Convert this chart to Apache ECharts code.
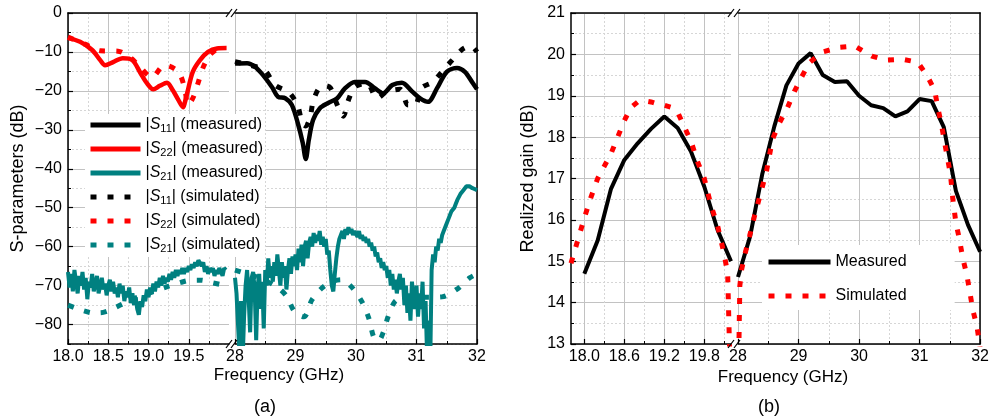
<!DOCTYPE html>
<html><head><meta charset="utf-8">
<script src="https://cdn.jsdelivr.net/npm/echarts@6/dist/echarts.min.js"></script>
<style>html,body{margin:0;padding:0;background:#fff}#c{width:992px;height:419px}</style>
</head><body><div id="c"></div>
<script>
// ---------------- DATA ----------------
// Panel (a) – S-parameters, band 18–20 GHz
const s22MeasFreq = [18.0,18.15,18.3,18.4,18.46,18.56,18.68,18.8,18.9,18.98,19.06,19.14,19.23,19.3,19.37,19.43,19.45,19.49,19.55,19.64,19.74,19.85,19.97];
const s22MeasVal  = [-6.4,-7.4,-9.5,-12.1,-13.4,-12.6,-11.6,-12.1,-15.4,-18,-19.6,-18.7,-17.9,-19.8,-22.3,-24.2,-23.1,-19.8,-15.1,-12.1,-10,-9.1,-9.0];
const s22SimFreq  = [18.0,18.21,18.4,18.62,18.77,18.9,19.04,19.2,19.37,19.45,19.49,19.55,19.62,19.68,19.76,19.85,19.95];
const s22SimVal   = [-6.2,-8,-9.7,-9.8,-11.4,-14,-16.5,-13.4,-15.1,-19.4,-23.6,-21.9,-17.7,-13.9,-10.8,-9.3,-8.8];
const s21MeasLoStart = 18.0, s21MeasLoStep = 0.02;
const s21MeasLoVal = [-66.5,-70.5,-67,-71.5,-66,-69,-72,-67.5,-70,-66.5,
  -71,-68,-73.5,-69,-70.5,-67,-71.5,-69.5,-67.5,-72,
  -70,-68,-71,-69.5,-72.5,-70,-68.5,-71.5,-69,-72,
  -70.5,-73,-69.5,-72,-70,-74,-71.5,-73,-70.5,-74.5,
  -72,-75,-73,-76,-77.5,-74,-75.5,-72.5,-74,-71,
  -73,-70.5,-72,-69.5,-71.5,-69,-70.5,-68,-70,-67.5,
  -69.5,-68,-69,-67,-68.5,-66.5,-68,-66,-67.5,-66,
  -67,-65.5,-67,-65.5,-66.5,-65,-66,-64.5,-65.5,-64,
  -65,-63.5,-64,-65,-64,-66.5,-65,-67,-65.5,-66.5,
  -65.5,-67.5,-66,-67,-65.5,-66.5,-67.5,-65.5,-66];
const s21SimLoFreq = [18.0,18.1,18.2,18.3,18.4,18.5,18.6,18.7,18.8,19.0,19.2,19.4,19.5,19.65,19.8,19.95];
const s21SimLoVal  = [-75,-75.8,-76.5,-77,-77,-76.5,-75.5,-74.5,-73.5,-72,-70.5,-69.2,-68.7,-68.6,-69.3,-70];
// Panel (a) – band 28–32 GHz
const s11MeasFreq = [28.0,28.2,28.33,28.46,28.61,28.71,28.83,28.94,29.04,29.12,29.17,29.22,29.29,29.4,29.54,29.69,29.82,29.98,30.15,30.31,30.45,30.6,30.76,30.93,31.06,31.19,31.34,31.5,31.67,31.8,31.93,32.0];
const s11MeasVal  = [-13,-12.9,-13.8,-15.9,-19,-21.5,-21.9,-23.6,-28.4,-33.4,-37.5,-32.6,-27.5,-24.5,-23.1,-21.9,-19.3,-17.7,-17.7,-19.3,-20.6,-18.5,-17.9,-20.2,-21.9,-22.8,-19.3,-15.1,-14.1,-15.1,-18,-19.6];
const s11SimFreq  = [28.0,28.2,28.35,28.5,28.66,28.9,29.04,29.11,29.17,29.24,29.29,29.39,29.5,29.58,29.69,29.79,29.87,29.98,30.18,30.35,30.51,30.73,30.86,30.98,31.08,31.27,31.42,31.59,31.77,31.9,32.0];
const s11SimVal   = [-12.5,-13.2,-13.8,-14.8,-18.5,-20.5,-24,-28.3,-29,-27,-22.8,-19.3,-18.7,-19.3,-23.6,-26.5,-22.6,-19,-18,-21.9,-20.2,-19.6,-23.6,-23.6,-19.3,-17.7,-15.1,-12.1,-9.2,-8.5,-10];
const s21MeasHiStart = 28.0, s21MeasHiStep = 0.025;
const s21MeasHiVal = [-68,-72,-80,-88,-74,-90,-78,-70,-66,-73,
  -82,-68,-66.5,-71,-84,-70,-67,-76,-69,-81,
  -66,-70,-63,-68,-65,-69,-64,-67.5,-62,-66,
  -70,-64,-68,-65,-71,-66,-63,-67,-62.5,-65,
  -62,-66,-60.5,-64,-59.5,-65,-60,-58.5,-63,-59,
  -57.5,-60,-56.5,-59,-57,-58.5,-56,-59.5,-57.5,-60,
  -58,-62,-61,-66,-70,-71.5,-67,-63,-60,-58,
  -57,-56,-58,-55.5,-57,-55,-56.5,-55.5,-57,-56,
  -56.5,-57.5,-56,-58,-57,-58.5,-57.5,-59,-58,-60,
  -59,-61,-60,-62.5,-61.5,-64,-63,-65.5,-64,-66,
  -65,-68,-66,-70,-67,-71,-68.5,-72,-69,-67,
  -71,-68,-75,-70,-77,-72,-79,-69,-74,-76,
  -70,-78,-72,-76,-69,-81,-74,-88,-79,-92,
  -66,-62,-64,-60,-61,-58,-59,-57,-56,-55.5,
  -54,-53,-52,-51,-50.5,-50,-49,-48,-47.5,-46.5,
  -46,-45.5,-45,-44.5,-44.3,-44.5,-44.6,-45,-45.2,-45.3,
  -45.5];
const s21SimHiFreq = [28.0,28.2,28.4,28.6,28.75,28.86,28.99,29.14,29.27,29.44,29.6,29.75,29.93,30.1,30.21,30.3,30.38,30.45,30.53,30.64,30.8,31.0,31.2,31.42,31.67,31.88,32.0];
const s21SimHiVal  = [-66,-67,-68,-69.5,-71,-72.9,-76.8,-78,-73.7,-70.6,-69,-68.5,-70.4,-74.2,-78.3,-83.5,-84,-82,-78,-74.2,-73,-73,-73,-72.9,-70.9,-68,-67];

// Panel (b) – realized gain
const gMeasLoFreq = [18.0,18.2,18.4,18.6,18.8,19.0,19.2,19.4,19.6,19.8,20.0,20.2];
const gMeasLoVal  = [14.7,15.5,16.75,17.45,17.85,18.2,18.5,18.22,17.65,16.8,15.75,15.0];
const gSimLoFreq  = [17.8,17.9,18.0,18.1,18.2,18.3,18.4,18.5,18.6,18.7,18.8,18.9,19.0,19.1,19.2,19.3,19.4,19.5,19.6,19.7,19.8,19.9,20.0,20.1,20.15,20.2];
const gSimLoVal   = [14.95,15.5,16.05,16.55,17.0,17.3,17.6,18.0,18.4,18.72,18.85,18.88,18.85,18.8,18.77,18.72,18.6,18.25,17.9,17.4,17.0,16.35,15.85,15.15,14.7,11.5];
const gMeasHiFreq = [28.0,28.2,28.4,28.6,28.8,29.0,29.2,29.4,29.6,29.8,30.0,30.2,30.4,30.6,30.8,31.0,31.2,31.4,31.6,31.8,32.0];
const gMeasHiVal  = [14.62,15.6,17.1,18.26,19.25,19.78,20.03,19.5,19.33,19.35,19.0,18.77,18.7,18.5,18.62,18.92,18.87,18.24,16.7,15.88,15.23];
const gSimHiFreq  = [28.0,28.03,28.06,28.12,28.19,28.27,28.39,28.47,28.57,28.69,28.82,28.93,29.05,29.18,29.4,29.68,29.93,30.21,30.45,30.72,30.97,31.13,31.25,31.3,31.36,31.41,31.46,31.51,31.55,31.6,31.66,31.71,31.78,31.83,31.88,31.95,32.0];
const gSimHiVal   = [11.5,14.4,14.8,15.2,15.6,16.08,16.73,17.17,17.95,18.36,18.72,19.1,19.45,19.8,20.06,20.17,20.2,19.96,19.86,19.88,19.81,19.47,19.13,18.72,18.31,17.9,17.5,17.1,16.5,15.93,15.52,15.1,14.67,14.26,13.82,13.41,12.9];

// Tick values / labels
const aXLoTicks = [18.0,18.5,19.0,19.5], aXLoMinor = [18.25,18.75,19.25,19.75];
const aXHiTicks = [28,29,30,31,32],      aXHiMinor = [28.5,29.5,30.5,31.5];
const aYTicks = [-80,-70,-60,-50,-40,-30,-20,-10,0], aYMinor = [-85,-75,-65,-55,-45,-35,-25,-15,-5];
const bXLoTicks = [18.0,18.6,19.2,19.8], bXLoMinor = [18.3,18.9,19.5,20.1];
const bXHiTicks = [28,29,30,31,32],      bXHiMinor = [28.5,29.5,30.5,31.5];
const bYTicks = [13,14,15,16,17,18,19,20,21], bYMinor = [13.5,14.5,15.5,16.5,17.5,18.5,19.5,20.5];

const legendA = ['|S11| (measured)','|S22| (measured)','|S21| (measured)','|S11| (simulated)','|S22| (simulated)','|S21| (simulated)'];
const legendB = ['Measured','Simulated'];

// ---------------- CHART ----------------
const FONT = '"Liberation Sans", Arial, Helvetica, sans-serif';
const TOP = 13, H = 331;
const G = [
  {left:68,  width:161}, // a low band
  {left:235, width:242}, // a high band
  {left:571, width:160}, // b low band
  {left:738, width:243}  // b high band
];
const zip = (f, v) => f.map((x, i) => [x, v[i]]);
const seq = (start, step, v) => v.map((y, i) => [+(start + i * step).toFixed(4), y]);
const fmt1 = v => Number(v).toFixed(1);
const fmtI = v => String(v);
const fmtNeg = v => v < 0 ? '\u2212' + Math.abs(v) : String(v);

const MAJ = '#c2c2c2', MIN = '#d6d6d6';
function xAxes(gi, min, max, majors, minors, fmt) {
  return [
    {type:'value', gridIndex:gi, min, max, position:'bottom',
     axisLine:{show:true, onZero:false, lineStyle:{color:'#000', width:1.5}},
     axisTick:{show:true, inside:true, length:5, customValues:majors, lineStyle:{color:'#000', width:1.2}},
     axisLabel:{show:true, customValues:majors, formatter:fmt, color:'#000', fontSize:16, fontFamily:FONT, margin:5},
     splitLine:{show:true, lineStyle:{color:MAJ, width:1}}},
    {type:'value', gridIndex:gi, min, max, position:'bottom',
     axisLine:{show:false, onZero:false},
     axisTick:{show:true, inside:true, length:3, customValues:minors, lineStyle:{color:'#000', width:1}},
     axisLabel:{show:false},
     splitLine:{show:true, lineStyle:{color:MIN, width:1, type:[2,2]}}},
    {type:'value', gridIndex:gi, min, max, position:'top',
     axisLine:{show:true, onZero:false, lineStyle:{color:'#000', width:1.5}},
     axisTick:{show:false}, axisLabel:{show:false}, splitLine:{show:false}}
  ];
}
function yAxes(gi, min, max, majors, minors, fmt, isLeft) {
  return [
    {type:'value', gridIndex:gi, min, max, position:'left',
     axisLine:{show:isLeft, onZero:false, lineStyle:{color:'#000', width:1.5}},
     axisTick:{show:isLeft, inside:true, length:5, customValues:majors, lineStyle:{color:'#000', width:1.2}},
     axisLabel:{show:isLeft, customValues:majors, formatter:fmt, color:'#000', fontSize:16, fontFamily:FONT, margin:6},
     splitLine:{show:true, lineStyle:{color:MAJ, width:1}}},
    {type:'value', gridIndex:gi, min, max, position:'left',
     axisLine:{show:false, onZero:false},
     axisTick:{show:isLeft, inside:true, length:3, customValues:minors, lineStyle:{color:'#000', width:1}},
     axisLabel:{show:false},
     splitLine:{show:true, lineStyle:{color:MIN, width:1, type:[2,2]}}},
    {type:'value', gridIndex:gi, min, max, position:'right',
     axisLine:{show:!isLeft, onZero:false, lineStyle:{color:'#000', width:1.5}},
     axisTick:{show:false}, axisLabel:{show:false}, splitLine:{show:false}}
  ];
}

const xAxis = [].concat(
  xAxes(0, 18, 20, aXLoTicks, aXLoMinor, fmt1),
  xAxes(1, 28, 32, aXHiTicks, aXHiMinor, fmtI),
  xAxes(2, 17.8, 20.2, bXLoTicks, bXLoMinor, fmt1),
  xAxes(3, 28, 32, bXHiTicks, bXHiMinor, fmtI));
const yAxis = [].concat(
  yAxes(0, -85, 0, aYTicks, aYMinor, fmtNeg, true),
  yAxes(1, -85, 0, aYTicks, aYMinor, fmtNeg, false),
  yAxes(2, 13, 21, bYTicks, bYMinor, fmtI, true),
  yAxes(3, 13, 21, bYTicks, bYMinor, fmtI, false));

const BLACK = '#000000', RED = '#ff0000', TEAL = '#008080';
const DOT = [6, 11];
function line(name, gi, data, color, dotted, width, smooth, z) {
  return {type:'line', name, xAxisIndex:gi*3, yAxisIndex:gi*3, data,
    showSymbol:false, symbol:'none', smooth: smooth || false, z: z || 2,
    lineStyle:{color, width, type: dotted ? DOT : 'solid'}, itemStyle:{color},
    emphasis:{disabled:true}};
}
const series = [
  line(legendA[0], 1, zip(s11MeasFreq, s11MeasVal), BLACK, false, 4.5, 0.3, 3),
  line(legendA[1], 0, zip(s22MeasFreq, s22MeasVal), RED, false, 4.5, 0.3, 3),
  line(legendA[2], 0, seq(s21MeasLoStart, s21MeasLoStep, s21MeasLoVal), TEAL, false, 4, false, 3),
  line(legendA[2], 1, seq(s21MeasHiStart, s21MeasHiStep, s21MeasHiVal), TEAL, false, 4, false, 3),
  line(legendA[3], 1, zip(s11SimFreq, s11SimVal), BLACK, true, 5, 0.3, 4),
  line(legendA[4], 0, zip(s22SimFreq, s22SimVal), RED, true, 5, 0.3, 4),
  line(legendA[5], 0, zip(s21SimLoFreq, s21SimLoVal), TEAL, true, 5, 0.3, 2),
  line(legendA[5], 1, zip(s21SimHiFreq, s21SimHiVal), TEAL, true, 5, 0.3, 2),
  line(legendB[0], 2, zip(gMeasLoFreq, gMeasLoVal), BLACK, false, 4, false, 3),
  line(legendB[0], 3, zip(gMeasHiFreq, gMeasHiVal), BLACK, false, 4, false, 3),
  line(legendB[1], 2, zip(gSimLoFreq, gSimLoVal), RED, true, 5, false, 4),
  line(legendB[1], 3, zip(gSimHiFreq, gSimHiVal), RED, true, 5, false, 4)
];

const richLeg = {
  it: {fontStyle:'italic', fontSize:16, fontFamily:FONT, color:'#000'},
  sb: {fontSize:11, fontFamily:FONT, color:'#000', padding:[7,0,0,0]}
};
const hideSym = {opacity:0, borderWidth:0};
const legend = [
  {data: legendA, orient:'vertical', left:85, top:114, itemWidth:50, itemHeight:14, itemGap:7,
   padding:[3,2,3,3], backgroundColor:'#fff', selectedMode:false, itemStyle:hideSym,
   lineStyle:{width:5},
   formatter: n => n.replace(/S(\d\d)/, '{it|S}{sb|$1}'),
   textStyle:{fontSize:16, color:'#000', fontFamily:FONT, rich:richLeg}},
  {data: legendB, orient:'vertical', left:762, top:245, itemWidth:62, itemHeight:14, itemGap:18,
   padding:[9,48,6,4], backgroundColor:'#fff', selectedMode:false, itemStyle:hideSym,
   lineStyle:{width:5},
   textStyle:{fontSize:16, color:'#000', fontFamily:FONT}}
];

// Axis-break marks and free texts
function brk(xl, xr) {
  const out = [];
  [TOP, TOP + H].forEach(y => {
    [xl, xr - 1].forEach(c => out.push({type:'line', z:100, silent:true,
      shape:{x1:c - 3, y1:y + 4, x2:c + 3, y2:y - 4}, style:{stroke:'#000', lineWidth:1.2}}));
  });
  return out;
}
const txt = (text, x, y, size, rot) => ({type:'text', z:100, silent:true, x, y, rotation: rot || 0,
  style:{text, fontSize:size, fontFamily:FONT, fill:'#000', align:'center', verticalAlign:'middle'}});
const graphic = [].concat(
  brk(G[0].left + G[0].width, G[1].left),
  brk(G[2].left + G[2].width, G[3].left),
  [txt('S-parameters (dB)', 18, TOP + H / 2, 18, Math.PI / 2),
   txt('Realized gain (dB)', 528, TOP + H / 2, 18, Math.PI / 2),
   txt('Frequency (GHz)', 279, 375, 17),
   txt('Frequency (GHz)', 783, 377, 17),
   txt('(a)', 265, 407, 18),
   txt('(b)', 769, 407, 18)]
);

const chart = echarts.init(document.getElementById('c'), null, {renderer:'canvas'});
chart.setOption({
  animation:false,
  backgroundColor:'#fff',
  textStyle:{fontFamily:FONT},
  grid: G.map(g => ({left:g.left, width:g.width, top:TOP, height:H, containLabel:false})),
  xAxis, yAxis, series, legend, graphic
});
</script></body></html>
